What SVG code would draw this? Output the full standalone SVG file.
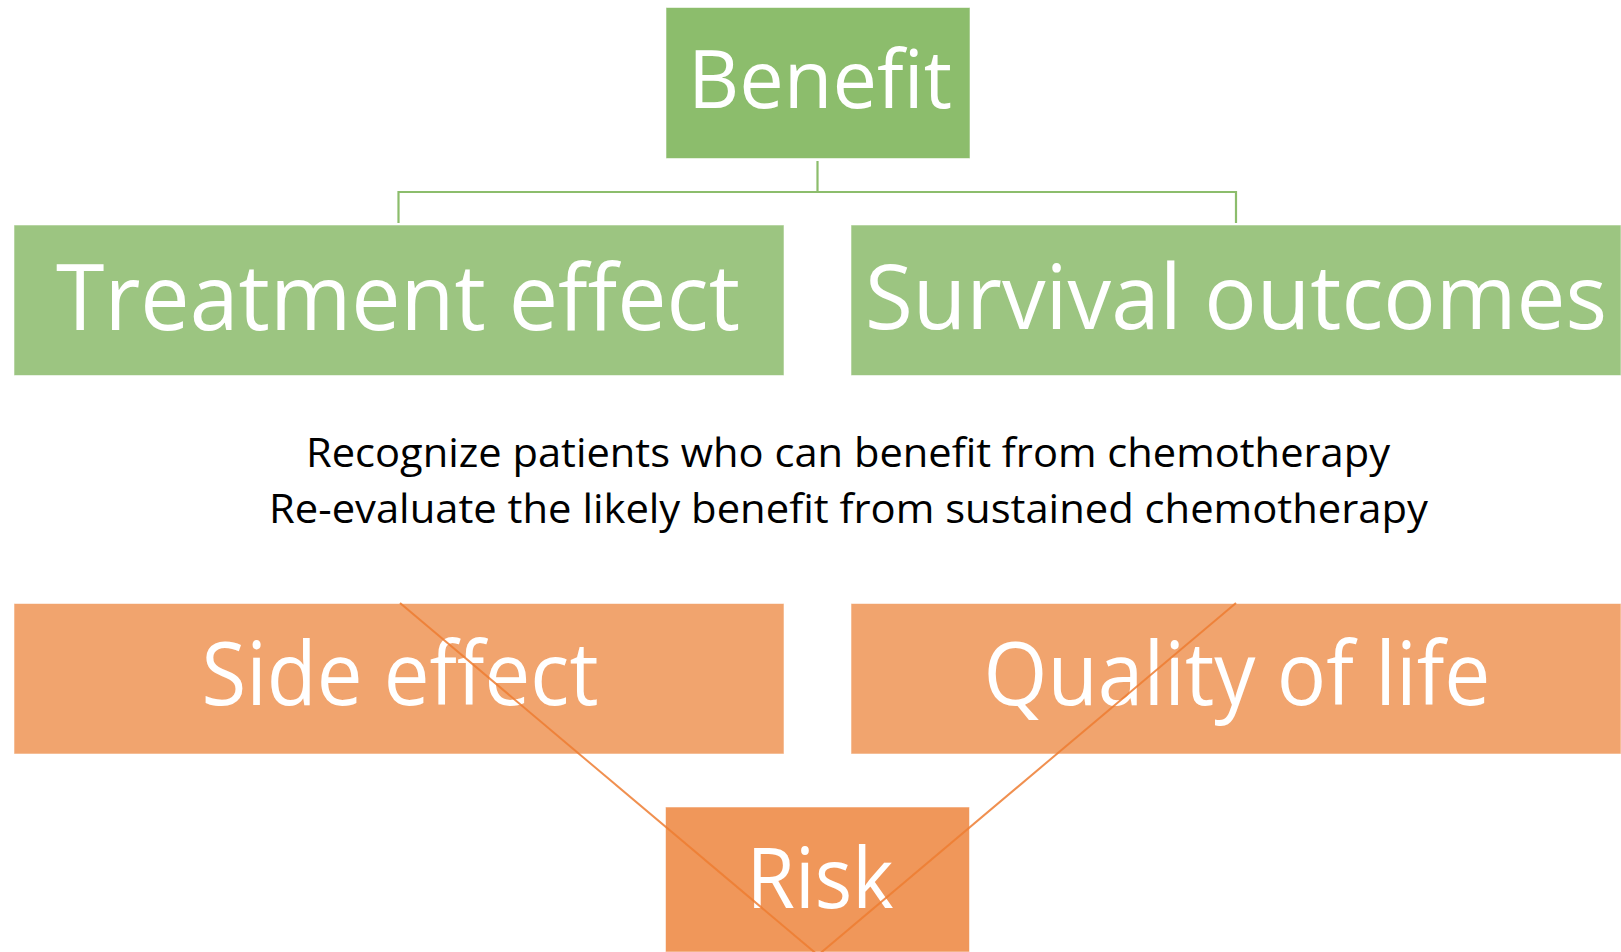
<svg xmlns="http://www.w3.org/2000/svg" width="1621" height="952" viewBox="0 0 1621 952">
  <style>
    .box { stroke: #ffffff; stroke-opacity: 0.55; stroke-width: 1; }
    .green-top { fill: #8cbd6c; }
    .green { fill: #9cc581; }
    .orange { fill: #f1a46e; }
    .orange-top { fill: #f0975a; }
    .label { font-family: "Open Sans", "Noto Sans", sans-serif; fill: #ffffff; text-anchor: middle; }
    .note { font-family: "Open Sans", "Noto Sans", sans-serif; fill: #000000; text-anchor: middle; font-size: 41px; }
    .tree { stroke: #8cbd6c; stroke-width: 2.2; fill: none; }
    .risk-link { stroke: #ed7d31; stroke-width: 2; stroke-opacity: 0.85; fill: none; }
  </style>
  <rect width="1621" height="952" fill="#ffffff"/>

  <!-- benefit tree connectors -->
  <g id="connectors-benefit">
    <path class="tree" d="M817.5 161 V192 M398.5 192 H1236 M398.5 191 V223 M1236 191 V223"/>
  </g>

  <g id="benefit">
    <rect class="box green-top" x="666" y="7.5" width="304" height="151"/>
    <text class="label" x="820" y="108" font-size="81" textLength="264" lengthAdjust="spacingAndGlyphs">Benefit</text>
  </g>

  <g id="treatment-effect">
    <rect class="box green" x="14" y="225" width="770" height="150.5"/>
    <text class="label" x="398" y="330" font-size="91" textLength="684" lengthAdjust="spacingAndGlyphs">Treatment effect</text>
  </g>

  <g id="survival-outcomes">
    <rect class="box green" x="851" y="225" width="770" height="150.5"/>
    <text class="label" x="1236" y="329" font-size="90" textLength="742" lengthAdjust="spacingAndGlyphs">Survival outcomes</text>
  </g>

  <g id="goals">
    <text class="note" x="848" y="467" textLength="1084" lengthAdjust="spacingAndGlyphs">Recognize patients who can benefit from chemotherapy</text>
    <text class="note" x="848.5" y="523" textLength="1159" lengthAdjust="spacingAndGlyphs">Re-evaluate the likely benefit from sustained chemotherapy</text>
  </g>

  <g id="side-effect">
    <rect class="box orange" x="14" y="603.5" width="770" height="150.5"/>
    <text class="label" x="400" y="705" font-size="87" textLength="397" lengthAdjust="spacingAndGlyphs">Side effect</text>
  </g>

  <g id="quality-of-life">
    <rect class="box orange" x="851" y="603.5" width="770" height="150.5"/>
    <text class="label" x="1237" y="705" font-size="87" textLength="507" lengthAdjust="spacingAndGlyphs">Quality of life</text>
  </g>

  <g id="risk">
    <rect class="box orange-top" x="665.5" y="807" width="304" height="145"/>
    <text class="label" x="820" y="908" font-size="84" textLength="147" lengthAdjust="spacingAndGlyphs">Risk</text>
  </g>

  <!-- risk connectors -->
  <g id="connectors-risk">
    <line class="risk-link" x1="400" y1="603" x2="819" y2="956"/>
    <line class="risk-link" x1="1236" y1="603" x2="817" y2="956"/>
  </g>
</svg>
